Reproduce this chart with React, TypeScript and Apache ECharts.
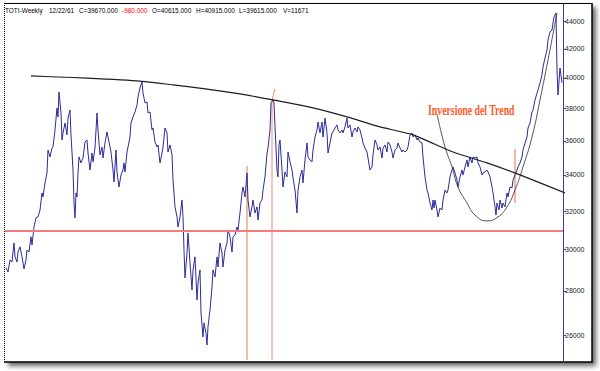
import React, { useEffect, useRef } from 'react';
import * as echarts from 'echarts';

// ---------- DATA ----------
const WEEKS = [
  6, 8, 10, 12, 14, 15, 17, 18, 20, 22, 24, 26, 27, 29, 31, 32, 34, 36, 38, 40,
  42, 43, 45, 47, 48, 50, 52, 53, 55, 57, 58, 59, 61, 62, 63, 65, 67, 68, 70, 71,
  73, 74, 75, 76, 77, 78, 79, 81, 83, 85, 87, 88, 90, 92, 93, 95, 97, 98, 100, 102,
  103, 105, 107, 109, 111, 113, 114, 116, 117, 119, 121, 123, 124, 125, 127, 128, 130, 131, 133, 135,
  137, 138, 140, 142, 143, 145, 147, 148, 150, 152, 153, 155, 157, 158, 160, 162, 163, 165, 167, 168,
  170, 172, 173, 175, 177, 178, 180, 182, 183, 184, 185, 187, 188, 190, 192, 193, 195, 197, 198, 200,
  201, 203, 204, 206, 207, 208, 210, 212, 213, 215, 217, 218, 220, 222, 223, 225, 227, 228, 230, 232,
  233, 235, 237, 238, 240, 242, 243, 245, 247, 248, 250, 252, 253, 255, 257, 258, 260, 262, 263, 265,
  267, 268, 270, 271, 273, 274, 275, 277, 278, 279, 280, 282, 283, 285, 287, 288, 290, 292, 293, 295,
  297, 298, 300, 302, 303, 305, 307, 308, 310, 312, 313, 315, 317, 318, 320, 322, 323, 325, 327, 328,
  330, 332, 333, 335, 337, 338, 340, 342, 343, 345, 347, 348, 350, 352, 353, 355, 357, 358, 360, 362,
  363, 365, 367, 368, 370, 372, 373, 375, 377, 378, 380, 382, 383, 385, 387, 388, 390, 392, 393, 395,
  397, 398, 400, 402, 403, 405, 407, 408, 410, 412, 413, 415, 417, 418, 420, 422, 423, 425, 427, 428,
  430, 432, 433, 434, 435, 437, 438, 440, 442, 443, 445, 447, 448, 450, 452, 453, 455, 457, 458, 460,
  462, 463, 465, 467, 468, 470, 472, 473, 475, 477, 478, 480, 482, 483, 485, 487, 488, 490, 492, 493,
  495, 496, 497, 499, 500, 502, 503, 505, 507, 508, 510, 512, 513, 515, 517, 518, 520, 522, 523, 525,
  527, 528, 530, 532, 533, 535, 537, 538, 540, 542, 543, 545, 547, 548, 550, 552, 553, 554, 556, 557,
  558, 560, 562,
];

const CLOSES = [
  29090, 28900, 29490, 29390, 30340, 29640, 29390, 29880, 30140, 29640, 29050, 29490, 29980, 29880, 30650, 30240, 31160, 31640, 31690, 32060,
  32990, 32770, 33550, 34110, 35450, 35040, 35570, 35630, 36660, 38040, 37470, 39070, 37720, 36050, 36480, 37090, 36360, 37400, 37910, 36360,
  34280, 32440, 31640, 32990, 32770, 34110, 35040, 34690, 34980, 35930, 36050, 35270, 34280, 35270, 34750, 35570, 37720, 36660, 35160, 35630,
  34980, 35870, 36540, 35930, 35330, 34280, 33600, 35450, 34170, 33320, 34000, 34280, 34690, 34170, 35330, 35630, 36230, 37090, 37470, 37780,
  38230, 38740, 39330, 39730, 39000, 38360, 38420, 37720, 37780, 36660, 36780, 35930, 35630, 35750, 34690, 35270, 35630, 36780, 36480, 35330,
  35750, 35160, 33710, 32230, 31690, 31160, 31690, 32600, 31690, 29980, 28610, 29830, 30850, 29340, 28040, 29000, 29640, 27580, 28370, 29000,
  26980, 25920, 26540, 26090, 25570, 26360, 27120, 28180, 29000, 28660, 29640, 29140, 30340, 29830, 29140, 29980, 30340, 31010, 30650, 29880,
  30650, 30750, 31160, 31010, 31900, 32990, 33320, 32770, 34110, 32600, 31690, 32230, 32600, 31900, 32230, 31530, 32440, 32600, 33150, 33890,
  35270, 35570, 36660, 38360, 38550, 38360, 36850, 34280, 33890, 35750, 36050, 34280, 33320, 34170, 33890, 35330, 34750, 34280, 33830, 33150,
  31900, 33150, 33890, 34280, 33550, 34860, 35870, 35040, 34860, 34750, 35450, 36230, 36660, 37150, 36480, 37150, 36230, 37400, 36480, 35270,
  35870, 36480, 36540, 36780, 36970, 36660, 36480, 36660, 36480, 36850, 37400, 36780, 36970, 36230, 36540, 36780, 36540, 36850, 36660, 36170,
  35870, 35570, 35330, 34980, 34280, 34460, 35160, 36050, 35750, 35450, 35630, 34980, 35570, 35750, 35330, 35930, 35750, 35330, 34980, 35450,
  35570, 35870, 35570, 35330, 35450, 35330, 35450, 35630, 36360, 36480, 36230, 36360, 36050, 36170, 35930, 35870, 35040, 33890, 33150, 32990,
  32440, 32060, 32600, 32170, 32600, 32060, 31690, 32170, 32060, 32600, 33150, 32990, 33150, 33890, 34280, 34460, 34110, 33710, 33320, 33890,
  34280, 34000, 34460, 34860, 34460, 35040, 34690, 35040, 34980, 35040, 34690, 34460, 34000, 34110, 34170, 34280, 34170, 33890, 33320, 32990,
  32230, 31790, 32440, 32060, 32600, 32170, 32440, 32230, 32990, 32770, 33320, 33270, 33710, 34000, 34280, 34460, 34690, 35040, 35450, 35870,
  36230, 36780, 37090, 37780, 37910, 38550, 39000, 39200, 39660, 40200, 40740, 41360, 41910, 42620, 43200, 43340, 43850, 44300, 44590, 40530,
  38870, 40670, 39670,
];

// Long-term resistance (drawn trend line)
const TREND_WEEKS = [31, 58, 87, 140, 173, 207, 240, 273, 313, 347, 380, 413, 453, 487, 520, 565, 573];
const TREND_VALUES = [40130, 40060, 39990, 39790, 39530, 39260, 38940, 38550, 38040, 37470, 36850, 36360, 35330, 34690, 34000, 32990, 32770];

// Cup (rounded bottom) curve
const CUP_WEEKS = [437, 445, 452, 458, 467, 475, 487, 498, 507, 515, 523, 532, 540, 548, 557];
const CUP_VALUES = [37660, 35630, 34460, 33320, 32440, 31790, 31480, 31690, 32230, 33150, 34460, 36230, 38550, 41220, 44590];

// Horizontal support
const SUPPORT_LEVEL = 30900;

// Vertical markers
const MARK1_WEEKS = [247, 247];
const MARK1_VALUES = [24940, 34510];
const MARK2_WEEKS = [272, 272, 275];
const MARK2_VALUES = [24940, 38550, 39260];
const MARK3_WEEKS = [515, 515];
const MARK3_VALUES = [32440, 35510];

// Axis
const Y_TICKS = [26000, 28000, 30000, 32000, 34000, 36000, 38000, 40000, 42000, 44000];
const Y_MIN = 24854;
const Y_MAX = 45271;
const X_MIN = 5;
const X_MAX = 563;

const HEADER_FIELDS = ['TOTI-Weekly', '12/22/61', 'C=39670.000', '-980.000', 'O=40615.000', 'H=40915.000', 'L=39615.000', 'V=11671'];
const ANNOTATION = 'Inversione del Trend';

const ln = (v: number) => Math.log(v);
const pairs = (xs: number[], ys: number[]) => xs.map((x, i) => [x, ln(ys[i])]);

export default function App() {
  const ref = useRef<HTMLDivElement>(null);

  useEffect(() => {
    if (!ref.current) return;
    const chart = echarts.init(ref.current, undefined, { renderer: 'svg' });

    const headerX = [5, 49, 79, 122, 152, 196, 239, 283];
    const headerEls = HEADER_FIELDS.map((t, i) => ({
      type: 'text',
      x: headerX[i],
      y: 10.5,
      scaleX: 0.86,
      z: 20,
      style: {
        text: t,
        fill: i === 3 ? '#ff0000' : '#000000',
        fontSize: 7.5,
        fontFamily: '"Liberation Sans", Arial, sans-serif',
        textAlign: 'left',
        textVerticalAlign: 'middle',
      },
    }));

    const lineSeries = (name: string, data: number[][], color: string, width: number, extra: any = {}) => ({
      name,
      type: 'line',
      data,
      showSymbol: false,
      symbol: 'none',
      silent: true,
      clip: false,
      z: 2,
      lineStyle: { color, width },
      ...extra,
    });

    const tickValues = Y_TICKS.map(ln);

    chart.setOption({
      animation: false,
      backgroundColor: '#ffffff',
      grid: { left: 5, right: 37, top: 4, bottom: 9 },
      xAxis: { type: 'value', min: X_MIN, max: X_MAX, show: false },
      yAxis: {
        type: 'value',
        position: 'right',
        min: ln(Y_MIN),
        max: ln(Y_MAX),
        splitLine: { show: false },
        axisLine: { show: true, lineStyle: { color: '#3a3aa8', width: 1 } },
        axisTick: { show: true, length: 3, customValues: tickValues, lineStyle: { color: '#3a3aa8' } },
        axisLabel: {
          customValues: tickValues,
          margin: 2,
          fontSize: 7,
          color: '#222222',
          fontFamily: '"Liberation Sans", Arial, sans-serif',
          formatter: (v: number) => String(Math.round(Math.exp(v) / 10) * 10),
        },
      },
      graphic: [
        {
          type: 'rect',
          z: -10,
          shape: { x: 4, y: 3, width: 588, height: 359 },
          style: {
            fill: '#ffffff',
            shadowBlur: 5,
            shadowOffsetX: 4,
            shadowOffsetY: 4,
            shadowColor: 'rgba(0,0,0,0.6)',
          },
        },
        { type: 'line', z: -5, shape: { x1: 4, y1: 3.5, x2: 592, y2: 3.5 }, style: { stroke: '#000', lineWidth: 1 } },
        { type: 'line', z: -5, shape: { x1: 592, y1: 3, x2: 592, y2: 362.5 }, style: { stroke: '#000', lineWidth: 1.5 } },
        { type: 'line', z: -5, shape: { x1: 4, y1: 362, x2: 592.5, y2: 362 }, style: { stroke: '#000', lineWidth: 1.5 } },
        { type: 'line', z: -5, shape: { x1: 4.5, y1: 3, x2: 4.5, y2: 362 }, style: { stroke: '#000', lineWidth: 1, lineDash: [1, 1] } },
        ...headerEls,
        {
          type: 'text',
          x: 428,
          y: 110.5,
          scaleX: 0.7,
          z: 20,
          style: {
            text: ANNOTATION,
            fill: '#ff5a2a',
            fontSize: 14,
            fontWeight: 'bold',
            fontFamily: '"Liberation Serif", "Times New Roman", serif',
            textAlign: 'left',
            textVerticalAlign: 'middle',
          },
        },
      ],
      series: [
        lineSeries('mark1', pairs(MARK1_WEEKS, MARK1_VALUES), '#f9b39a', 1.8),
        lineSeries('mark2', pairs(MARK2_WEEKS, MARK2_VALUES), '#f28a6c', 1),
        lineSeries('mark3', pairs(MARK3_WEEKS, MARK3_VALUES), '#f06a48', 1),
        lineSeries('cup', pairs(CUP_WEEKS, CUP_VALUES), '#555555', 1, { smooth: true }),
        {
          name: 'TOTI',
          type: 'line',
          data: pairs(WEEKS, CLOSES),
          showSymbol: false,
          symbol: 'none',
          silent: true,
          z: 3,
          lineStyle: { color: '#2c2c98', width: 1 },
          markLine: {
            silent: true,
            symbol: 'none',
            label: { show: false },
            lineStyle: { color: '#f47c7c', width: 2, type: 'solid' },
            data: [{ yAxis: ln(SUPPORT_LEVEL) }],
          },
        },
        lineSeries('trend', pairs(TREND_WEEKS, TREND_VALUES), '#1e1e1e', 1.2, { smooth: 0.2, z: 4 }),
      ],
    });

    return () => chart.dispose();
  }, []);

  return (
    <div
      ref={ref}
      style={{ position: 'absolute', left: 0, top: 0, width: 600, height: 371 }}
    />
  );
}
